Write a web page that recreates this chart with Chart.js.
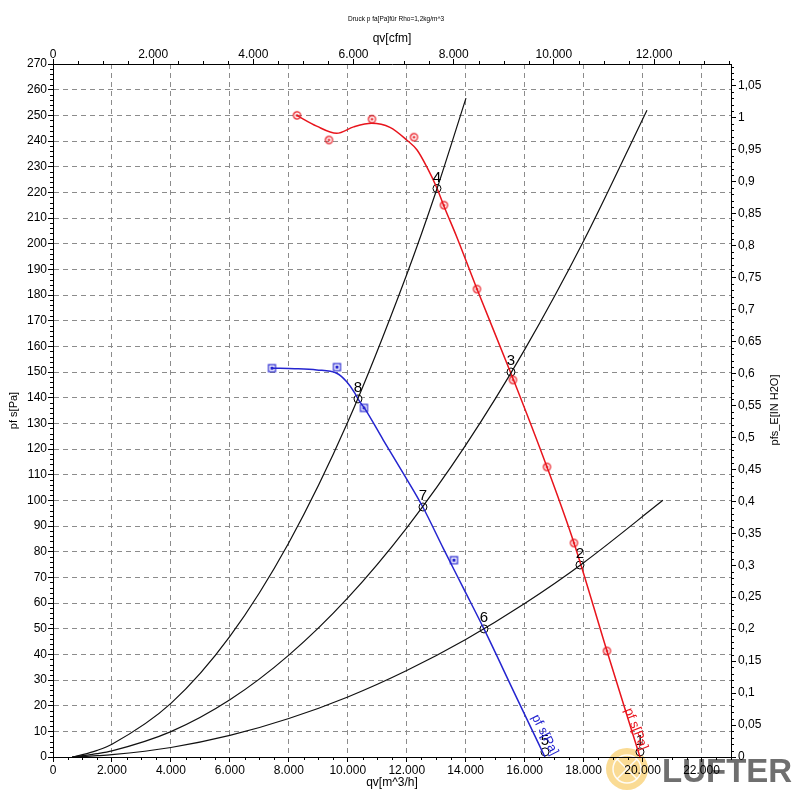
<!DOCTYPE html>
<html><head><meta charset="utf-8">
<script src="https://cdn.jsdelivr.net/npm/chart.js@4.4.0/dist/chart.umd.min.js"></script>
<style>html,body{margin:0;padding:0;background:#fff}canvas{display:block}</style>
</head><body>
<canvas id="c" width="800" height="800"></canvas>
<script>
// ---- data ----
// system curves: flow qv [m^3/h], pressure [Pa]
const sys1Q = [650, 1000, 1500, 2000, 4000, 6000, 8000, 10000, 12000, 13000, 14010];
const sys1P = [0, 0.9, 2.6, 5.0, 20.9, 47, 83.5, 130.5, 188, 220.5, 256.7];
const sys2Q = [650, 1000, 1500, 2000, 4000, 6000, 8000, 10000, 12000, 14000, 16000, 18000, 20150];
const sys2P = [0, 0.5, 1.3, 2.4, 9.9, 22.3, 39.7, 62, 89.3, 121.5, 158.7, 201, 252];
const sys3Q = [650, 1000, 1500, 2000, 4000, 6000, 8000, 10000, 12000, 14000, 16000, 18000, 20690];
const sys3P = [0, 0.2, 0.5, 0.9, 3.7, 8.4, 15, 23.4, 33.7, 45.8, 59.8, 75.7, 100];
// red fan curve
const redQ = [8266, 8944, 9623, 10200, 10811, 11431, 11998, 12350, 12676, 13016, 13263, 13694, 14383, 15604, 16757, 17673, 18792, 19912];
const redP = [250, 245.8, 243, 245.5, 246.9, 245.3, 240.4, 236.5, 230, 221.9, 214.6, 202.7, 182.3, 147.5, 113, 83.4, 41.3, 0];
const redMarkQ = [8277, 9362, 10821, 12246, 13263, 14383, 15604, 16757, 17673, 18792];
const redMarkP = [250, 240.4, 248.5, 241.5, 215, 182.3, 146.9, 113, 83.4, 41.3];
// blue fan curve
const blueQ = [7453, 8200, 8945, 9623, 9963, 10244, 10356, 10583, 11204, 11883, 12541, 13240, 13930, 14620, 15650, 16689];
const blueP = [151.5, 151.3, 150.8, 149.5, 146.2, 141.7, 139.3, 135.6, 123.5, 110.5, 97.5, 81.3, 65.6, 49.9, 25, 0];
const blueMarkQ = [7429, 9634, 10550, 13603];
const blueMarkP = [151.5, 151.9, 136, 76.7];
// operating points
const opLabels = ['1', '2', '3', '4', '5', '6', '7', '8'];
const opQ = [19912, 17877, 15536, 13026, 16689, 14620, 12551, 10346];
const opP = [2, 74.8, 150, 221.5, 2, 49.9, 97.4, 139.5];
// axes / tick labels
const qMax = 23000, pMax = 270;
const cfmFactor = 1.699;      // m^3/h per cfm
const inH2OFactor = 249.09;   // Pa per inch H2O
const qTicks = [0, 2000, 4000, 6000, 8000, 10000, 12000, 14000, 16000, 18000, 20000, 22000];
const cfmTicks = [0, 2000, 4000, 6000, 8000, 10000, 12000];
const curveLabels = [
  {text: 'pf s[Pa]', q: 16683, p: 8.6, angle: 63, color: '#2525d0'},
  {text: 'pf s[Pa]', q: 19776, p: 10.9, angle: 68, color: '#e8141c'}
];

const zip = (a, b) => a.map((v, i) => ({x: v, y: b[i]}));
const FONT = "'Liberation Sans', Arial, sans-serif";
const tickFont = {family: FONT, size: 12};
const thou = v => String(Math.round(v)).replace(/\B(?=(\d{3})+(?!\d))/g, '.');

function mk(draw) { const c = document.createElement('canvas'); c.width = 11; c.height = 11; draw(c.getContext('2d')); return c; }
const redMark = mk(g => { g.strokeStyle = '#e8141c'; g.lineWidth = 1.2; g.beginPath(); g.arc(5.5, 5.5, 3.6, 0, Math.PI * 2); g.stroke(); g.fillStyle = '#e8141c'; g.beginPath(); g.arc(5.5, 5.5, 1.3, 0, Math.PI * 2); g.fill(); });
const blueMark = mk(g => { g.strokeStyle = '#2525d0'; g.lineWidth = 1.2; g.strokeRect(2, 2, 7, 7); g.fillStyle = '#2525d0'; g.fillRect(4, 4, 3, 3); });

const lineDs = (data, color, w) => ({data, showLine: true, borderColor: color, borderWidth: w, pointRadius: 0, cubicInterpolationMode: 'monotone', fill: false});

const minorTicks = {
  id: 'minorTicks',
  afterDraw(chart) {
    const {ctx, scales: {x, x2, y, y2}} = chart;
    ctx.save(); ctx.strokeStyle = '#000'; ctx.lineWidth = 1; ctx.beginPath();
    const L = 3;
    for (let v = 0; v <= qMax; v += 500) { if (v % 2000 === 0) continue; const px = Math.round(x.getPixelForValue(v)) + 0.5; ctx.moveTo(px, x.top); ctx.lineTo(px, x.top + L); }
    for (let v = 0; v <= qMax / cfmFactor; v += 500) { if (v % 2000 === 0) continue; const px = Math.round(x2.getPixelForValue(v)) + 0.5; ctx.moveTo(px, x2.bottom); ctx.lineTo(px, x2.bottom - L); }
    for (let v = 0; v <= pMax; v += 2) { if (v % 10 === 0) continue; const py = Math.round(y.getPixelForValue(v)) + 0.5; ctx.moveTo(y.right, py); ctx.lineTo(y.right - L, py); }
    for (let i = 0; i <= Math.floor(pMax / inH2OFactor * 100); i++) { if (i % 5 === 0) continue; const py = Math.round(y2.getPixelForValue(i / 100)) + 0.5; ctx.moveTo(y2.left, py); ctx.lineTo(y2.left + L, py); }
    ctx.stroke(); ctx.restore();
  }
};

const texts = {
  id: 'texts',
  beforeDraw(chart) {
    const ctx = chart.ctx;
    ctx.save();
    // watermark logo
    ctx.fillStyle = 'rgba(245,190,60,0.55)';
    ctx.beginPath(); ctx.arc(627, 769, 21, 0, Math.PI * 2); ctx.fill();
    ctx.strokeStyle = 'rgba(255,255,255,0.9)'; ctx.lineWidth = 1.5;
    ctx.beginPath(); ctx.arc(627, 769, 14, 0, Math.PI * 2); ctx.stroke();
    ctx.beginPath(); ctx.moveTo(617, 759); ctx.lineTo(637, 779); ctx.moveTo(637, 759); ctx.lineTo(617, 779); ctx.stroke();
    ctx.fillStyle = 'rgba(95,95,95,0.9)';
    ctx.font = "bold 33px " + FONT; ctx.textBaseline = 'alphabetic'; ctx.textAlign = 'left';
    ctx.fillText('LUFTER', 662, 782);
    ctx.restore();
  },
  afterDraw(chart) {
    const ctx = chart.ctx;
    const {x, y} = chart.scales;
    ctx.save();
    ctx.fillStyle = '#000'; ctx.textAlign = 'center'; ctx.textBaseline = 'middle';
    ctx.font = "6.5px " + FONT;
    ctx.fillText('Druck p fa[Pa]für Rho=1,2kg/m^3', 396, 19);
    ctx.font = "11px " + FONT;
    ctx.translate(775, 410); ctx.rotate(-Math.PI / 2);
    ctx.fillText('pfs_E[IN H2O]', 0, 0);
    ctx.restore();
    // curve labels
    curveLabels.forEach(l => {
      ctx.save();
      ctx.translate(x.getPixelForValue(l.q), y.getPixelForValue(l.p));
      ctx.rotate(l.angle * Math.PI / 180);
      ctx.fillStyle = l.color; ctx.font = "13px " + FONT; ctx.textAlign = 'center'; ctx.textBaseline = 'middle';
      ctx.fillText(l.text, 0, 0);
      ctx.restore();
    });
  },
  afterDatasetsDraw(chart) {
    const ctx = chart.ctx;
    const meta = chart.getDatasetMeta(chart.data.datasets.length - 1);
    ctx.save();
    ctx.fillStyle = '#000'; ctx.font = "15px " + FONT; ctx.textAlign = 'center'; ctx.textBaseline = 'middle';
    meta.data.forEach((el, i) => ctx.fillText(opLabels[i], el.x, el.y - 11));
    ctx.restore();
  }
};

const gridCommon = {color: '#8c8c8c', lineWidth: 1, tickLength: 5, tickColor: '#000', tickWidth: 1};
const setTicks = vals => s => { s.ticks = vals.map(v => ({value: v})); };

new Chart(document.getElementById('c'), {
  type: 'scatter',
  data: {
    datasets: [
      lineDs(zip(sys1Q, sys1P), '#111', 1.2),
      lineDs(zip(sys2Q, sys2P), '#111', 1.2),
      lineDs(zip(sys3Q, sys3P), '#111', 1.2),
      lineDs(zip(redQ, redP), '#e8141c', 1.5),
      lineDs(zip(blueQ, blueP), '#2525d0', 1.5),
      {data: zip(redMarkQ, redMarkP), pointStyle: redMark, pointRadius: 4, showLine: false},
      {data: zip(blueMarkQ, blueMarkP), pointStyle: blueMark, pointRadius: 4, showLine: false},
      {data: zip(opQ, opP), pointStyle: 'circle', pointRadius: 4, pointBackgroundColor: '#fff', pointBorderColor: '#000', pointBorderWidth: 1, showLine: false, clip: false}
    ]
  },
  options: {
    responsive: false, animation: false,
    layout: {padding: 0},
    plugins: {legend: {display: false}, tooltip: {enabled: false}, title: {display: false}},
    events: [],
    scales: {
      x: {
        type: 'linear', position: 'bottom', min: 0, max: qMax,
        afterBuildTicks: setTicks(qTicks),
        ticks: {autoSkip: false, maxRotation: 0, padding: 1, color: '#000', font: tickFont, callback: v => thou(v)},
        grid: gridCommon,
        border: {dash: [5, 4], color: '#000', width: 1},
        title: {display: true, text: 'qv[m^3/h]', color: '#000', font: tickFont, padding: {top: 0, bottom: 10}},
        afterFit: s => { s.height = 43; }
      },
      x2: {
        type: 'linear', position: 'top', min: 0, max: qMax / cfmFactor,
        afterBuildTicks: setTicks(cfmTicks),
        ticks: {autoSkip: false, maxRotation: 0, padding: -3, color: '#000', font: tickFont, callback: v => thou(v)},
        grid: {drawOnChartArea: false, tickLength: 5, tickColor: '#000'},
        border: {color: '#000', width: 1},
        title: {display: true, text: 'qv[cfm]', color: '#000', font: tickFont, padding: {top: 31, bottom: 0}},
        afterFit: s => { s.height = 64; }
      },
      y: {
        type: 'linear', position: 'left', min: 0, max: pMax,
        ticks: {stepSize: 10, includeBounds: false, autoSkip: false, padding: 1, color: '#000', font: tickFont},
        grid: gridCommon,
        border: {dash: [5, 4], color: '#000', width: 1},
        title: {display: true, text: 'pf s[Pa]', color: '#000', font: {family: FONT, size: 11}, padding: {top: 7, bottom: 0}},
        afterFit: s => { s.width = 53; }
      },
      y2: {
        type: 'linear', position: 'right', min: 0, max: pMax / inH2OFactor,
        ticks: {stepSize: 0.05, includeBounds: false, autoSkip: false, padding: 2, color: '#000', font: tickFont,
          callback: v => String(Math.round(v * 100) / 100).replace('.', ',')},
        grid: {drawOnChartArea: false, tickLength: 5, tickColor: '#000'},
        border: {color: '#000', width: 1},
        afterFit: s => { s.width = 69; }
      }
    }
  },
  plugins: [minorTicks, texts]
});
</script>
</body></html>
